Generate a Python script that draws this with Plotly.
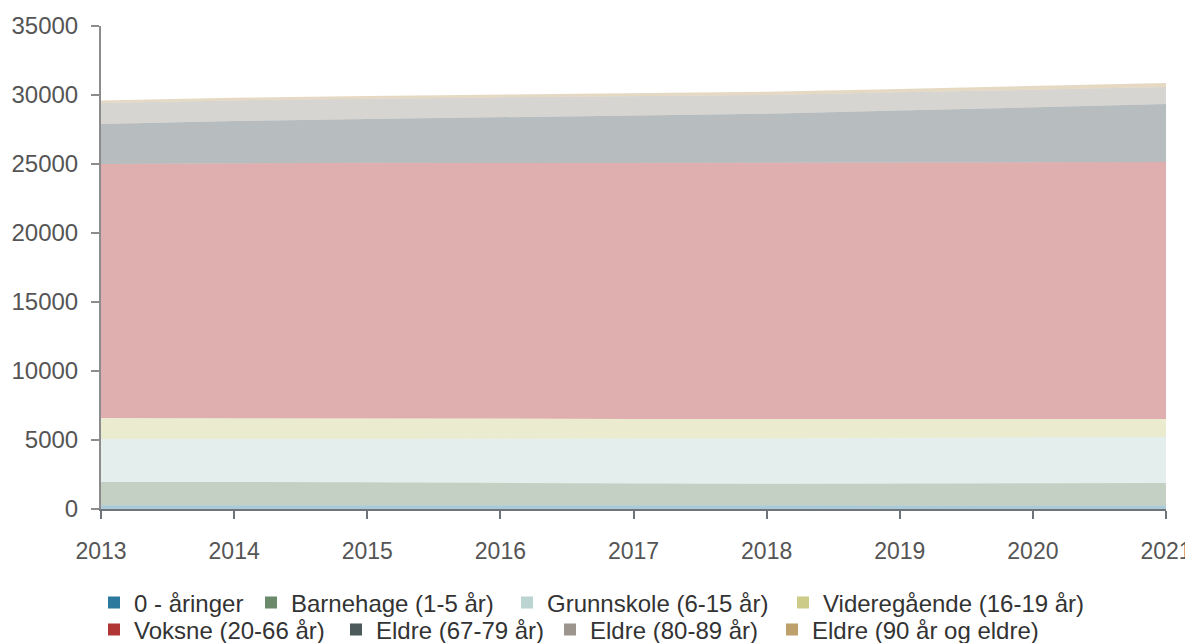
import plotly.graph_objects as go

years = [2013, 2014, 2015, 2016, 2017, 2018, 2019, 2020, 2021]

series_names = [
    "0 - åringer",
    "Barnehage (1-5 år)",
    "Grunnskole (6-15 år)",
    "Videregående (16-19 år)",
    "Voksne (20-66 år)",
    "Eldre (67-79 år)",
    "Eldre (80-89 år)",
    "Eldre (90 år og eldre)",
]

nullaringer = [280, 270, 275, 265, 260, 255, 260, 250, 255]
barnehage = [1680, 1690, 1670, 1630, 1590, 1570, 1590, 1610, 1630]
grunnskole = [3110, 3130, 3170, 3200, 3250, 3280, 3300, 3320, 3340]
videregaende = [1520, 1500, 1480, 1460, 1430, 1400, 1380, 1350, 1300]
voksne = [18410, 18470, 18490, 18520, 18540, 18560, 18580, 18600, 18625]
eldre_67_79 = [2900, 3050, 3180, 3300, 3420, 3570, 3760, 3960, 4200]
eldre_80_89 = [1520, 1500, 1470, 1440, 1400, 1370, 1330, 1290, 1230]
eldre_90 = [180, 190, 200, 210, 220, 230, 240, 260, 290]

y_ticks = [0, 5000, 10000, 15000, 20000, 25000, 30000, 35000]
y_tick_labels = ["0", "5000", "10000", "15000", "20000", "25000", "30000", "35000"]
x_tick_labels = ["2013", "2014", "2015", "2016", "2017", "2018", "2019", "2020", "2021"]

colors = ["#2b7a9e", "#6b8a6b", "#bcd4d2", "#cccc88",
          "#b03535", "#4c5a5c", "#9b958e", "#bda06a"]

all_series = [nullaringer, barnehage, grunnskole, videregaende,
              voksne, eldre_67_79, eldre_80_89, eldre_90]


def rgba(hex_color, a):
    h = hex_color.lstrip("#")
    r, g, b = int(h[0:2], 16), int(h[2:4], 16), int(h[4:6], 16)
    return f"rgba({r},{g},{b},{a})"


fig = go.Figure()
for name, vals, col in zip(series_names, all_series, colors):
    fig.add_trace(go.Scatter(
        x=years, y=vals, name=name, stackgroup="one", mode="lines",
        line=dict(width=0, color=col), fillcolor=rgba(col, 0.4),
        showlegend=False, hoverinfo="x+y+name",
    ))

# the page body has an 8px margin; work in figure pixels (screen - 8)
OFF = 8
W, H = 1193 - OFF, 643 - OFF
PL, PR, PT, PB = 101 - OFF, 1166 - OFF, 26 - OFF, 509 - OFF


def px_to_paper_x(px):
    return (px - OFF - PL) / (PR - PL)


def px_to_paper_y(py):
    return (PB - (py - OFF)) / (PB - PT)


# one legend per entry so the rows flow like the reference (screen px)
legend_text_x = [134, 291, 547, 823, 134, 376, 590, 812]
legend_row_y = [603, 603, 603, 603, 630, 630, 630, 630]

legend_font = dict(family="Liberation Sans, Arial, sans-serif", size=24, color="#333333")
layout_legends = {}
for i, (name, col) in enumerate(zip(series_names, colors)):
    key = "legend" if i == 0 else f"legend{i + 1}"
    fig.add_trace(go.Scatter(
        x=[None], y=[None], mode="markers", name=name,
        marker=dict(symbol="square", size=12, color=col),
        showlegend=True, legend=key,
    ))
    layout_legends[key] = dict(
        orientation="h",
        x=px_to_paper_x(legend_text_x[i] - 40), xanchor="left",
        y=px_to_paper_y(legend_row_y[i]), yanchor="middle",
        font=legend_font, itemwidth=30, bgcolor="rgba(0,0,0,0)",
        borderwidth=0, tracegroupgap=0,
    )

axis_col = "#8c8c8c"
fig.update_layout(
    width=W, height=H,
    margin=dict(l=PL, r=W - PR, t=PT, b=H - PB, autoexpand=False),
    paper_bgcolor="white", plot_bgcolor="white",
    font=dict(family="Liberation Sans, Arial, sans-serif", size=24, color="#555555"),
    showlegend=True,
    xaxis=dict(range=[2013, 2021], tickvals=years, ticktext=x_tick_labels,
               tickfont=dict(size=23),
               showgrid=False, zeroline=False,
               showline=True, linecolor="#6f747a", linewidth=2,
               ticks="outside", ticklen=8, tickcolor="#6f747a", tickwidth=2,
               ticklabelstandoff=12),
    yaxis=dict(range=[0, 35000], tickvals=y_ticks, ticktext=y_tick_labels,
               tickfont=dict(size=24),
               showgrid=False, zeroline=False,
               showline=True, linecolor=axis_col, linewidth=2,
               ticks="outside", ticklen=8, tickcolor=axis_col, tickwidth=2,
               ticklabelstandoff=8),
    **layout_legends,
)

fig.write_html("out.html")
